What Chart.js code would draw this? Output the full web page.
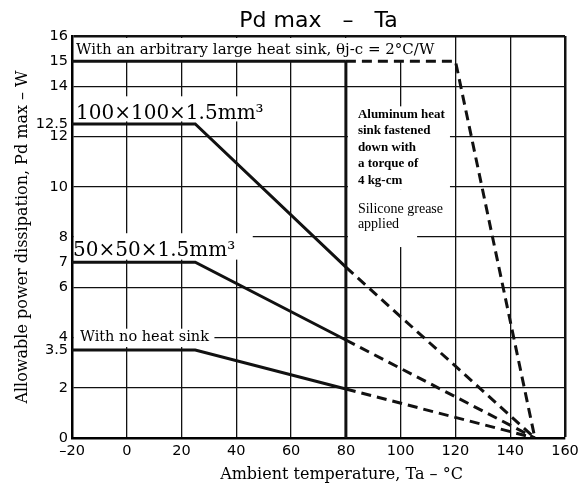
<!DOCTYPE html>
<html>
<head>
<meta charset="utf-8">
<script src="https://cdn.jsdelivr.net/npm/chart.js@4.4.0/dist/chart.umd.min.js"></script>
<style>
  body { margin: 0; background: #fff; }
</style>
</head>
<body>
<canvas id="pdChart" width="586" height="486"></canvas>
<script>
// curvas de potencia admisible (Ta en °C, Pd en W)
const largeSinkTa = [-20, 80, 120, 149];
const largeSinkPd = [15, 15, 15, 0];
const sink100Ta = [-20, 25, 80, 149];
const sink100Pd = [12.5, 12.5, 6.8, 0];
const sink50Ta = [-20, 25, 80, 149];
const sink50Pd = [7, 7, 3.9, 0];
const noSinkTa = [-20, 25, 80, 149];
const noSinkPd = [3.5, 3.5, 1.95, 0];
// limite vertical a 80 °C
const limitTa = [80, 80];
const limitPd = [0, 15];

const yTickValues = [0, 2, 3.5, 4, 6, 7, 8, 10, 12, 12.5, 14, 15, 16];
const yGridValues = [0, 2, 4, 6, 8, 10, 12, 14, 16];

const toPoints = (xs, ys) => xs.map((v, i) => ({ x: v, y: ys[i] }));

const curve = (xs, ys, solidSegs) => ({
    data: toPoints(xs, ys),
    borderColor: '#111',
    borderWidth: 3,
    pointRadius: 0,
    tension: 0,
    segment: {
        borderDash: c => c.p0DataIndex >= solidSegs ? [10, 6] : undefined,
    },
});

const notes = {
    id: 'notes',
    beforeDatasetsDraw(chart) {
        const { ctx, chartArea, scales: { x, y } } = chart;
        // zonas blancas detras de los textos
        const boxes = [
            [-20, 115, 15, 16],
            [-20, 51, 12.6, 13.6],
            [-20, 46, 7.1, 8.15],
            [-20, 32, 3.62, 4.35],
            [80, 118, 9.9, 13.2],
            [80, 106, 7.6, 9.9],
        ];
        ctx.save();
        ctx.fillStyle = '#fff';
        boxes.forEach(b => {
            let l = x.getPixelForValue(b[0]);
            const r = x.getPixelForValue(b[1]);
            let t = y.getPixelForValue(b[3]);
            const bt = y.getPixelForValue(b[2]);
            l = Math.max(l, chartArea.left + 2);
            if (b[0] === 80) l += 2;
            t = Math.max(t, chartArea.top + 2);
            ctx.fillRect(l, t, r - l, bt - t);
        });
        ctx.restore();
    },
    afterDatasetsDraw(chart) {
        const { ctx, chartArea, scales: { x, y } } = chart;
        const left = chartArea.left;
        ctx.save();
        ctx.fillStyle = '#000';
        ctx.textAlign = 'left';
        ctx.textBaseline = 'alphabetic';

        ctx.font = '15px "DejaVu Serif"';
        ctx.fillText('With an arbitrary large heat sink, θj-c = 2°C/W', left + 4, y.getPixelForValue(15.5) + 5);

        ctx.font = '20px "DejaVu Serif"';
        ctx.fillText('100×100×1.5mm³', left + 4, y.getPixelForValue(12.5) - 5);
        ctx.fillText('50×50×1.5mm³', left + 1, y.getPixelForValue(7) - 6);

        ctx.font = '14.5px "DejaVu Serif"';
        ctx.fillText('With no heat sink', left + 8, y.getPixelForValue(3.5) - 9);

        const tx = x.getPixelForValue(80) + 12;
        ctx.font = 'bold 13px "Liberation Serif"';
        const lines = ['Aluminum heat', 'sink fastened', 'down with', 'a torque of', '4 kg-cm'];
        const y0 = y.getPixelForValue(12.75);
        lines.forEach((s, i) => ctx.fillText(s, tx, y0 + i * 16.5));

        ctx.font = '14px "Liberation Serif"';
        const y1 = y.getPixelForValue(8.96);
        ctx.fillText('Silicone grease', tx, y1);
        ctx.fillText('applied', tx, y1 + 15.5);

        // titulo del eje x
        ctx.font = '16px "DejaVu Serif"';
        ctx.textAlign = 'center';
        ctx.textBaseline = 'middle';
        ctx.fillText('Ambient temperature, Ta – °C', (chartArea.left + chartArea.right) / 2 + 23, 475);
        ctx.restore();
    },
};

const tickFont = { family: '"DejaVu Sans"', size: 14.5 };

new Chart(document.getElementById('pdChart'), {
    type: 'line',
    data: {
        datasets: [
            curve(largeSinkTa, largeSinkPd, 1),
            curve(sink100Ta, sink100Pd, 2),
            curve(sink50Ta, sink50Pd, 2),
            curve(noSinkTa, noSinkPd, 2),
            curve(limitTa, limitPd, 1),
        ],
    },
    options: {
        responsive: false,
        animation: false,
        layout: { padding: { right: 21 } },
        plugins: {
            legend: { display: false },
            tooltip: { enabled: false },
            title: {
                display: true,
                text: 'Pd max   –   Ta',
                fullSize: false,
                color: '#000',
                font: { family: '"DejaVu Sans"', size: 22, weight: 'normal' },
                padding: { top: 8, bottom: 1.6 },
            },
        },
        scales: {
            x: {
                type: 'linear',
                min: -20,
                max: 160,
                ticks: {
                    stepSize: 20,
                    color: '#000',
                    font: tickFont,
                    padding: 5,
                    callback: v => String(v).replace('-', '–'),
                },
                grid: {
                    drawTicks: false,
                    color: '#111',
                    lineWidth: c => c.tick && c.tick.value === 160 ? 2.5 : 1.3,
                },
                border: { color: '#000', width: 2.5 },
                afterFit: s => { s.height = 48; },
            },
            y: {
                type: 'linear',
                min: 0,
                max: 16,
                afterBuildTicks: s => { s.ticks = yTickValues.map(v => ({ value: v })); },
                ticks: { autoSkip: false, color: '#000', font: tickFont, padding: 4 },
                grid: {
                    drawTicks: false,
                    color: c => yGridValues.includes(c.tick.value) ? '#111' : 'rgba(0,0,0,0)',
                    lineWidth: c => c.tick.value === 16 ? 2.5 : 1.3,
                },
                border: { color: '#000', width: 2.5 },
                title: {
                    display: true,
                    text: 'Allowable power dissipation, Pd max – W',
                    color: '#000',
                    font: { family: '"DejaVu Serif"', size: 16 },
                    padding: { top: 13, bottom: 0 },
                },
                afterFit: s => { s.width = 72; },
            },
        },
    },
    plugins: [notes],
});
</script>
</body>
</html>
